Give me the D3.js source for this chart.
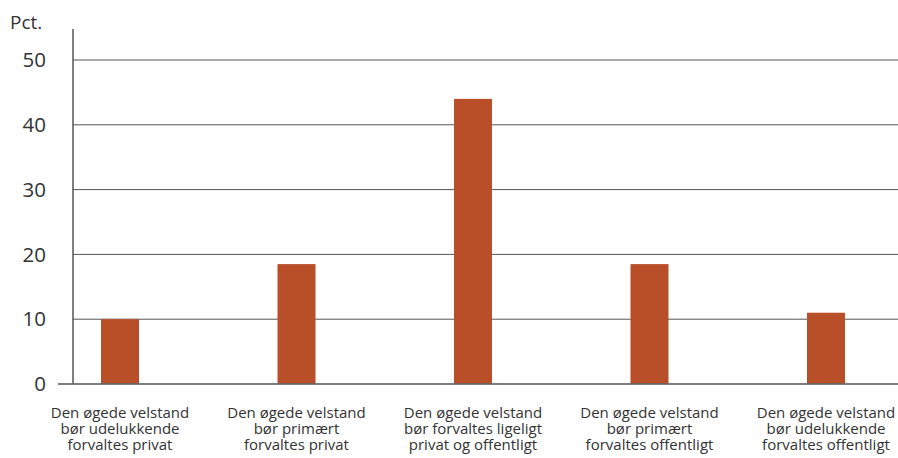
<!DOCTYPE html>
<html>
<head>
<meta charset="utf-8">
<script src="https://cdn.jsdelivr.net/npm/d3@7"></script>
<style>
body { margin: 0; background: #fff; }
text { font-family: "Open Sans", "Noto Sans", sans-serif; fill: #333; }
</style>
</head>
<body>
<div id="chart"></div>
<script>
var categories = [
	["Den øgede velstand", "bør udelukkende", "forvaltes privat"],
	["Den øgede velstand", "bør primært", "forvaltes privat"],
	["Den øgede velstand", "bør forvaltes ligeligt", "privat og offentligt"],
	["Den øgede velstand", "bør primært", "forvaltes offentligt"],
	["Den øgede velstand", "bør udelukkende", "forvaltes offentligt"]
]
var values = [10, 18.5, 44, 18.5, 11]
var yTicks = [0, 10, 20, 30, 40, 50]

var width = 898, height = 458
var svg = d3.select("#chart").append("svg").attr("width", width).attr("height", height)

var y = d3.scaleLinear().domain([0, 50]).range([384, 60])
var x = d3.scalePoint().domain(d3.range(categories.length)).range([120, 826])
var barW = 38

// gridlines
svg.selectAll("line.grid").data(yTicks.filter(function(t){ return t > 0 })).enter().append("line")
	.attr("x1", 73).attr("x2", width)
	.attr("y1", function(d){ return y(d) }).attr("y2", function(d){ return y(d) })
	.attr("stroke", "#555").attr("stroke-width", 1)

svg.selectAll("text.tick").data(yTicks).enter().append("text")
	.attr("x", 46).attr("y", function(d){ return y(d) })
	.attr("dy", "0.35em").attr("text-anchor", "end")
	.attr("font-size", 20.5).text(function(d){ return d })

svg.append("text").attr("x", 10).attr("y", 29).attr("font-size", 19).text("Pct.")

// bars
svg.selectAll("rect.bar").data(values).enter().append("rect")
	.attr("x", function(d, i){ return x(i) - barW / 2 })
	.attr("y", function(d){ return y(d) })
	.attr("width", barW)
	.attr("height", function(d){ return y(0) - y(d) })
	.attr("fill", "#b94f28")

// axes
svg.append("line").attr("x1", 73).attr("x2", 73).attr("y1", 29).attr("y2", 384)
	.attr("stroke", "#555").attr("stroke-width", 1.5)
svg.append("line").attr("x1", 58).attr("x2", width).attr("y1", 384).attr("y2", 384)
	.attr("stroke", "#666").attr("stroke-width", 2).attr("stroke-opacity", 0.85)

// category labels, one text per line
categories.forEach(function(lines, i){
	svg.selectAll(null).data(lines).enter().append("text")
		.attr("text-anchor", "middle").attr("font-size", 15)
		.attr("x", x(i))
		.attr("y", function(d, j){ return 418 + j * 16 })
		.text(function(d){ return d })
})
</script>
</body>
</html>
